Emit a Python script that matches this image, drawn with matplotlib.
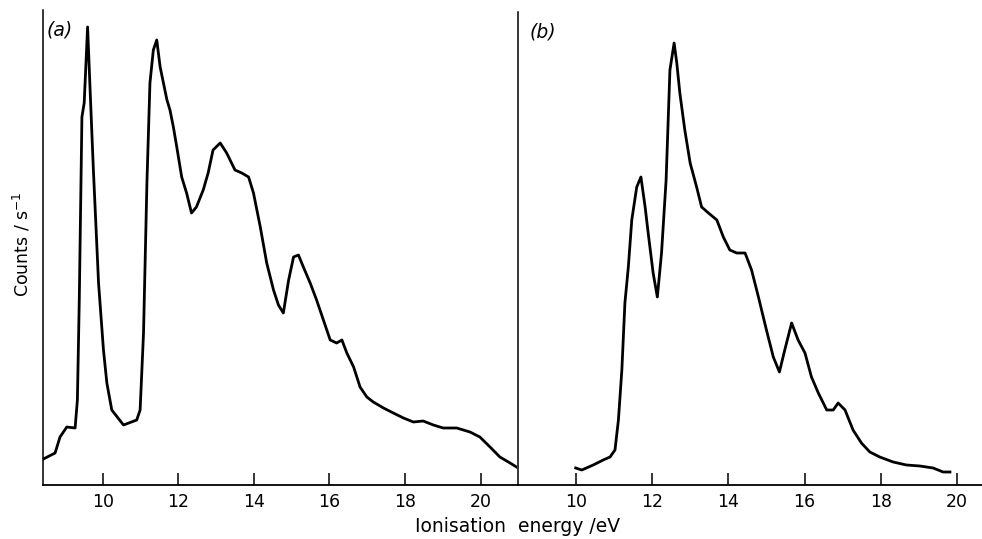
import matplotlib
matplotlib.use("Agg")
import matplotlib.pyplot as plt

# ---- data ----
energy_a = [8.43, 8.74, 8.87, 9.05, 9.27, 9.33, 9.38, 9.45, 9.51, 9.60, 9.67, 9.75,
            9.89, 10.02, 10.11, 10.24, 10.55, 10.90, 10.99, 11.08, 11.17, 11.25, 11.34,
            11.43, 11.52, 11.70, 11.78, 11.87, 11.96, 12.09, 12.22, 12.35, 12.48, 12.66,
            12.79, 12.92, 13.11, 13.28, 13.50, 13.68, 13.86, 13.99, 14.17, 14.34, 14.52,
            14.65, 14.78, 14.92, 15.05, 15.18, 15.31, 15.49, 15.66, 15.84, 16.02, 16.19,
            16.33, 16.46, 16.64, 16.81, 16.99, 17.16, 17.43, 17.69, 17.96, 18.22, 18.48,
            18.75, 19.01, 19.37, 19.72, 19.98, 20.25, 20.51, 20.78, 20.95]
counts_a = [26, 32, 48, 58, 57, 85, 185, 368, 382, 458, 392, 318,
            202, 135, 102, 75, 60, 65, 75, 152, 302, 402, 435,
            445, 418, 385, 375, 358, 338, 308, 292, 272, 278, 295,
            312, 335, 342, 332, 315, 312, 308, 292, 258, 222, 195,
            180, 172, 205, 228, 230, 218, 202, 185, 165, 145, 142,
            145, 132, 118, 98, 88, 83, 77, 72, 67, 63, 64,
            60, 57, 57, 53, 48, 38, 28, 22, 18]

energy_b = [10.00, 10.16, 10.46, 10.72, 10.90, 11.03, 11.12, 11.21, 11.29, 11.38, 11.47,
            11.60, 11.71, 11.82, 11.90, 12.03, 12.14, 12.25, 12.37, 12.47, 12.58, 12.65,
            12.73, 12.86, 13.00, 13.17, 13.30, 13.48, 13.70, 13.87, 14.04, 14.22, 14.44,
            14.61, 14.79, 15.00, 15.18, 15.34, 15.48, 15.66, 15.83, 16.01, 16.18, 16.36,
            16.58, 16.75, 16.88, 17.06, 17.27, 17.49, 17.71, 17.97, 18.32, 18.67, 19.02,
            19.37, 19.63, 19.81]
counts_b = [17, 15, 20, 25, 28, 35, 65, 115, 182, 218, 265,
            298, 308, 278, 252, 212, 188, 232, 305, 415, 442, 422,
            392, 355, 322, 298, 278, 272, 265, 248, 235, 232, 232,
            215, 188, 155, 128, 113, 135, 162, 145, 132, 108, 92,
            75, 75, 82, 75, 55, 42, 33, 28, 23, 20, 19,
            17, 13, 13]

ticks = [10, 12, 14, 16, 18, 20]
panel_labels = ["a", "b"]

W, H = 982, 539
fig = plt.figure(figsize=(W / 100, H / 100), dpi=100)

def px_axes(x0, y0, x1, y1):
    return fig.add_axes([x0 / W, 1 - y1 / H, (x1 - x0) / W, (y1 - y0) / H])

ax_a = px_axes(43, 10, 516.5, 485)
ax_b = px_axes(517.7, 12, 982, 485)

tick_font = dict(fontsize=12.5, family="DejaVu Sans")

for ax, e, c, xl, yl, lab in [
    (ax_a, energy_a, counts_a, (8.42, 20.95), (0, 475), panel_labels[0]),
    (ax_b, energy_b, counts_b, (8.48, 20.65), (0, 473), panel_labels[1]),
]:
    ax.plot(e, c, color="black", lw=2.0, solid_joinstyle="round")
    ax.set_xlim(*xl)
    ax.set_ylim(*yl)
    ax.set_xticks(ticks)
    ax.set_xticklabels([str(t) for t in ticks], **tick_font)
    ax.set_yticks([])
    ax.tick_params(axis="x", direction="in", length=8.5, width=1.1, pad=6)
    for s in ("top", "right"):
        ax.spines[s].set_visible(False)
    ax.spines["left"].set_linewidth(1.1)
    ax.spines["bottom"].set_linewidth(1.3)
    ax.patch.set_alpha(0)
    ax.text(0.007 if lab == "a" else 0.026, 0.958, f"({lab})", transform=ax.transAxes,
            fontsize=13.5, fontstyle="italic", ha="left", va="center")

fig.text(22 / W, 1 - 244 / H, "Counts / s$^{-1}$", rotation=90, ha="center",
         va="center", fontsize=12.5)
fig.text(518 / W, 1 - 527 / H, "Ionisation  energy /eV", ha="center", va="center",
         fontsize=13.5)

fig.savefig("out.png", dpi=100)
